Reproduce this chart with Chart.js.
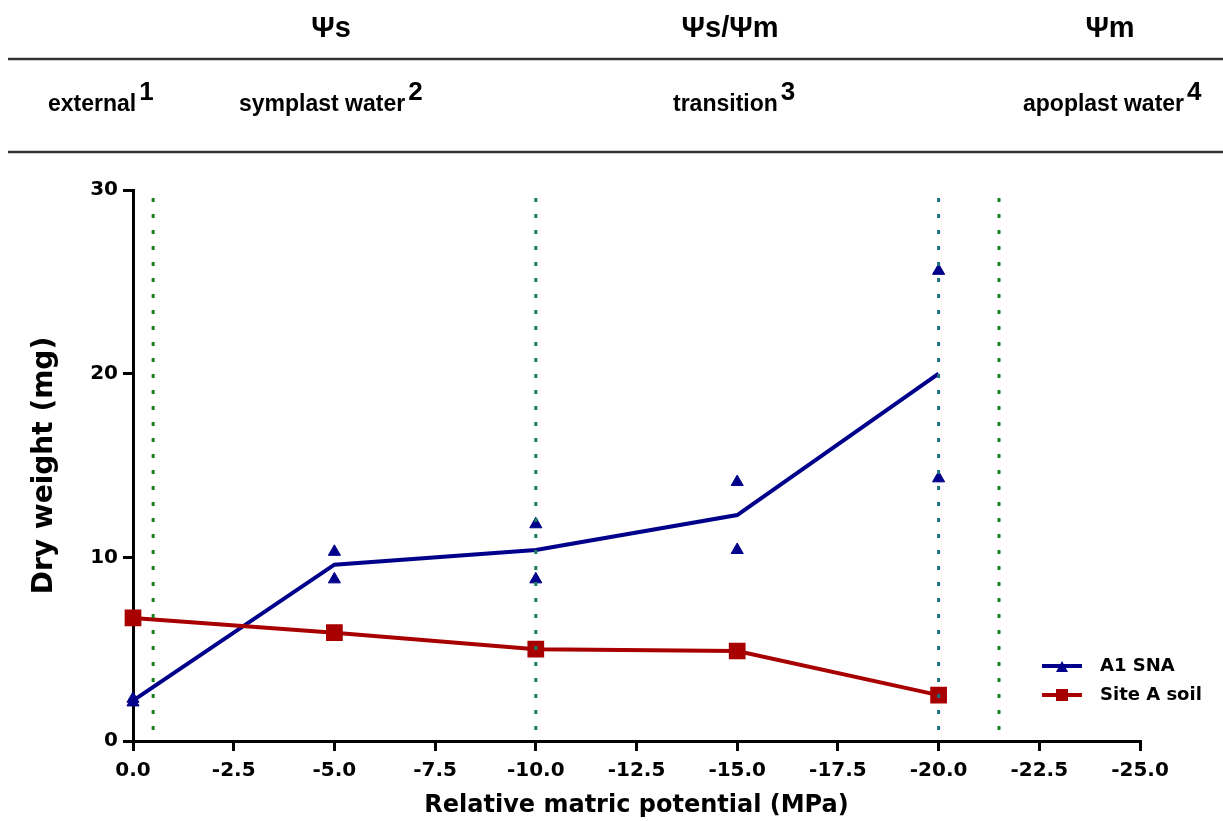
<!DOCTYPE html>
<html>
<head>
<meta charset="utf-8">
<script src="https://cdn.jsdelivr.net/npm/chart.js@4"></script>
<style>
  body { margin: 0; background: #fff; }
  canvas { display: block; }
</style>
</head>
<body>
<canvas id="chart" width="1223" height="821"></canvas>
<script>
// values
var potentials = [0, -5, -10, -15, -20];
var snaMeans = [2.2, 9.6, 10.4, 12.3, 20.0];
var snaRepA = [2.1, 10.3, 11.8, 14.1, 25.6];
var snaRepB = [2.3, 8.8, 8.8, 10.4, 14.3];
var soilMeans = [6.7, 5.9, 5.0, 4.9, 2.5];
var seriesNames = ['A1 SNA', 'Site A soil'];
var seriesColors = ['#00008b', '#a80000'];

var markerLines = [-0.5, -10, -20, -21.5];
var markerColors = ['#17801f', '#17805a', '#1e6f80', '#17801f'];

var zoneTitles = ['Ψs', 'Ψs/Ψm', 'Ψm'];
var zoneLabels = ['external', 'symplast water', 'transition', 'apoplast water'];
var zoneNotes = ['1', '2', '3', '4'];

function pts(xs, ys) {
  return xs.map(function(x, i) { return {x: x, y: ys[i]}; });
}

var datasets = [];
markerLines.forEach(function(x, i) {
  datasets.push({
    data: [{x: x, y: 0.6}, {x: x, y: 30}],
    borderColor: markerColors[i],
    borderWidth: 3,
    borderDash: [4, 12],
    pointRadius: 0,
    showLine: true
  });
});
datasets.push({
  label: seriesNames[1],
  data: pts(potentials, soilMeans),
  borderColor: seriesColors[1],
  backgroundColor: seriesColors[1],
  borderWidth: 4,
  pointStyle: 'rect',
  pointRadius: 9,
  clip: false,
  showLine: true
});
datasets.push({
  label: seriesNames[0],
  data: pts(potentials, snaMeans),
  borderColor: seriesColors[0],
  borderWidth: 4,
  pointRadius: 0,
  showLine: true
});
datasets.push({
  data: pts(potentials, snaRepA).concat(pts(potentials, snaRepB)),
  borderColor: seriesColors[0],
  backgroundColor: seriesColors[0],
  pointStyle: 'triangle',
  pointRadius: 7,
  clip: false,
  showLine: false
});

var sansFont = '"Liberation Sans", Arial, sans-serif';
var wideFont = '"DejaVu Sans", sans-serif';

var headerPlugin = {
  id: 'header',
  afterDraw: function(chart) {
    var ctx = chart.ctx;
    ctx.save();
    ctx.fillStyle = '#000';
    ctx.font = 'bold 29px ' + sansFont;
    ctx.textAlign = 'center';
    ctx.textBaseline = 'middle';
    var titleX = [331, 730, 1110];
    zoneTitles.forEach(function(t, i) { ctx.fillText(t, titleX[i], 29); });

    ctx.strokeStyle = '#333';
    ctx.lineWidth = 2.5;
    ctx.beginPath();
    ctx.moveTo(8, 59); ctx.lineTo(1223, 59);
    ctx.moveTo(8, 152); ctx.lineTo(1223, 152);
    ctx.stroke();

    var labelX = [48, 239, 673, 1023];
    ctx.textAlign = 'left';
    ctx.textBaseline = 'alphabetic';
    zoneLabels.forEach(function(t, i) {
      ctx.font = 'bold 23px ' + sansFont;
      ctx.fillText(t, labelX[i], 111);
      var w = ctx.measureText(t).width;
      ctx.font = 'bold 26px ' + sansFont;
      ctx.fillText(zoneNotes[i], labelX[i] + w + 3, 100);
    });
    ctx.restore();
  }
};

var legendPlugin = {
  id: 'boxLegend',
  afterDraw: function(chart) {
    var ctx = chart.ctx;
    ctx.save();
    var rows = [666, 695];
    seriesNames.forEach(function(name, i) {
      var y = rows[i];
      ctx.strokeStyle = seriesColors[i];
      ctx.fillStyle = seriesColors[i];
      ctx.lineWidth = 4;
      ctx.beginPath();
      ctx.moveTo(1042, y); ctx.lineTo(1082, y);
      ctx.stroke();
      ctx.beginPath();
      if (i === 0) {
        ctx.moveTo(1062, y - 5); ctx.lineTo(1068, y + 6); ctx.lineTo(1056, y + 6);
        ctx.closePath();
      } else {
        ctx.rect(1056, y - 6, 12, 12);
      }
      ctx.fill();
      ctx.fillStyle = '#000';
      ctx.font = 'bold 18px ' + wideFont;
      ctx.textAlign = 'left';
      ctx.textBaseline = 'middle';
      ctx.fillText(name, 1100, y);
    });
    ctx.restore();
  }
};

new Chart(document.getElementById('chart'), {
  type: 'scatter',
  data: { datasets: datasets },
  plugins: [headerPlugin, legendPlugin],
  options: {
    responsive: false,
    animation: false,
    layout: { padding: { top: 190, right: 83, left: 0, bottom: 0 } },
    plugins: {
      legend: { display: false },
      tooltip: { enabled: false }
    },
    scales: {
      x: {
        type: 'linear',
        min: -25,
        max: 0,
        reverse: true,
        afterFit: function(s) { s.height = 80; },
        border: { display: true, color: '#000', width: 3 },
        grid: { drawOnChartArea: false, drawTicks: true, tickLength: 10, color: '#000', lineWidth: 3 },
        ticks: {
          stepSize: 2.5,
          color: '#000',
          padding: 8,
          maxRotation: 0,
          font: { family: wideFont, size: 20, weight: 'bold' },
          callback: function(v) { return v.toFixed(1); }
        },
        title: {
          display: true,
          text: 'Relative matric potential (MPa)',
          color: '#000',
          padding: { top: 0, bottom: 1 },
          font: { family: wideFont, size: 24, weight: 'bold' }
        }
      },
      y: {
        min: 0,
        max: 30,
        afterFit: function(s) { s.width = 133; },
        border: { display: true, color: '#000', width: 3 },
        grid: { drawOnChartArea: false, drawTicks: true, tickLength: 10, color: '#000', lineWidth: 3 },
        ticks: {
          stepSize: 10,
          color: '#000',
          padding: 5,
          font: { family: wideFont, size: 20, weight: 'bold' }
        },
        title: {
          display: true,
          text: 'Dry weight (mg)',
          color: '#000',
          padding: { top: 28, bottom: 0 },
          font: { family: wideFont, size: 28, weight: 'bold' }
        }
      }
    }
  }
});
</script>
</body>
</html>
